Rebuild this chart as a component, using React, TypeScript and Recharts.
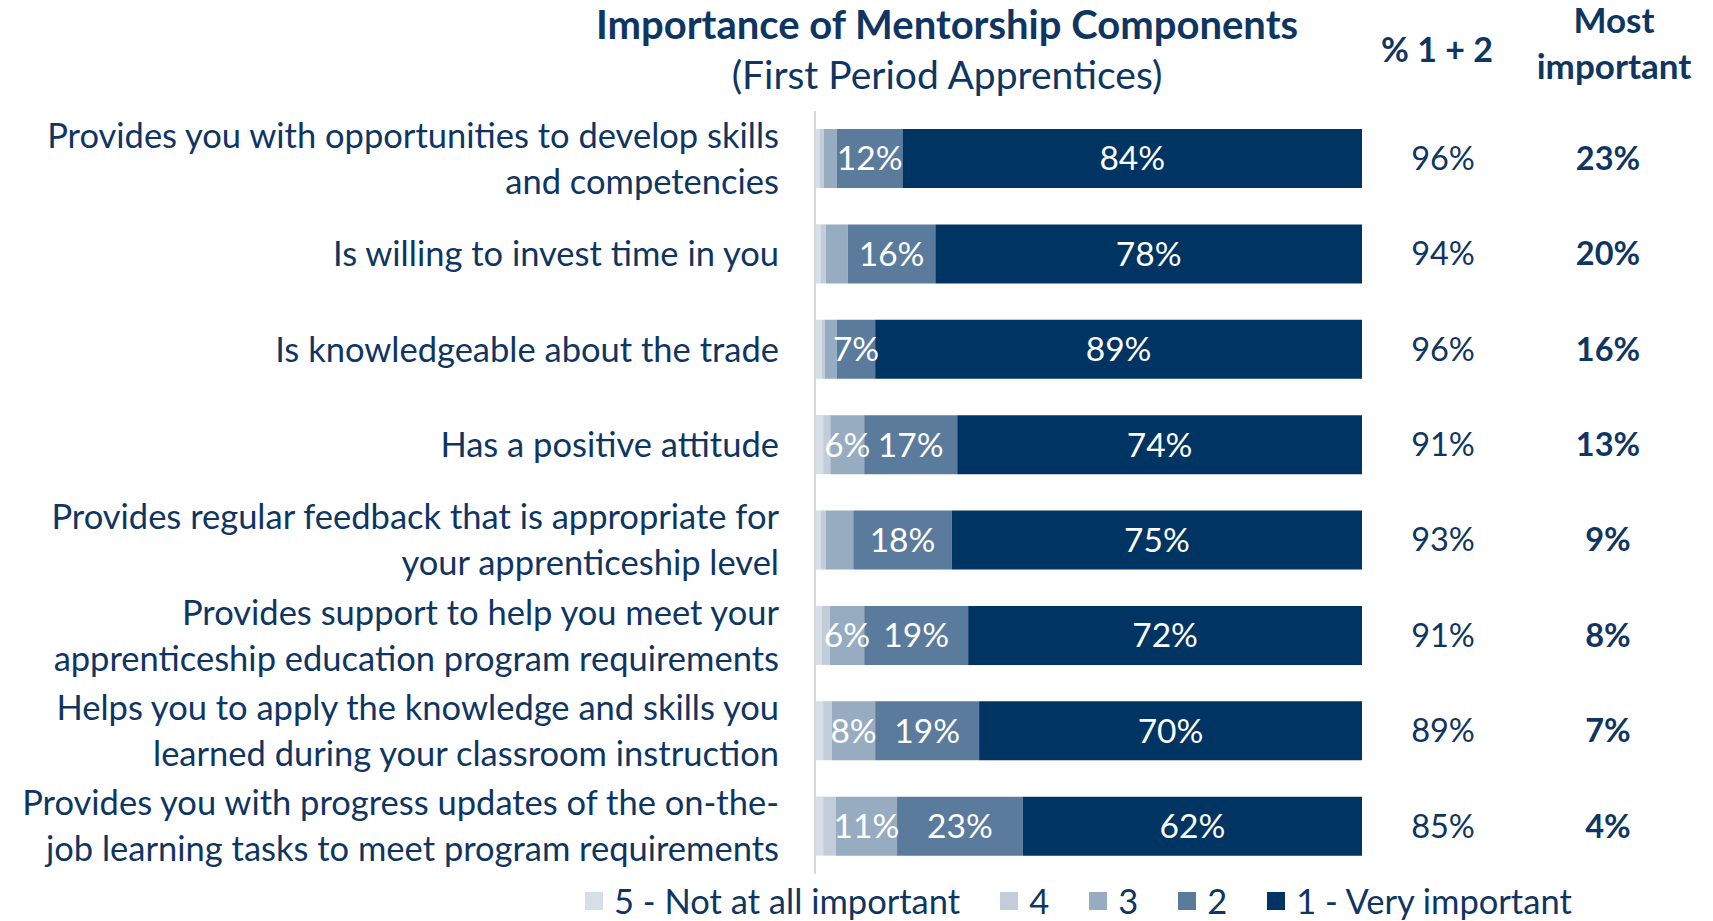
import React from 'react';
import { BarChart, Bar, XAxis, YAxis, LabelList, Legend } from 'recharts';

const categories = [
    'Provides you with opportunities to develop skills\nand competencies',
    'Is willing to invest time in you',
    'Is knowledgeable about the trade',
    'Has a positive attitude',
    'Provides regular feedback that is appropriate for\nyour apprenticeship level',
    'Provides support to help you meet your\napprenticeship education program requirements',
    'Helps you to apply the knowledge and skills you\nlearned during your classroom instruction',
    'Provides you with progress updates of the on-the-\njob learning tasks to meet program requirements',
];

const notAtAll = [0.8, 1, 1.2, 1.5, 1, 1.2, 1.5, 1.5];
const four = [0.8, 1, 0.6, 1.3, 1, 1.5, 1.6, 2.3];
const three = [2.4, 4, 2.2, 6.2, 5, 6.3, 7.9, 11.2];
const two = [12, 16, 7, 17, 18, 19, 19, 23];
const veryImportant = [84, 78, 89, 74, 75, 72, 70, 62];

const topTwo = ['96%', '94%', '96%', '91%', '93%', '91%', '89%', '85%'];
const mostImportant = ['23%', '20%', '16%', '13%', '9%', '8%', '7%', '4%'];

const seriesNames = ['5 - Not at all important', '4', '3', '2', '1 - Very important'];
const seriesKeys = ['s5', 's4', 's3', 's2', 's1'];
const colors = ['#d6dee7', '#c3cdd9', '#97abc1', '#5b7b9c', '#003462'];

const data = categories.map((name, i) => ({
    name,
    s5: notAtAll[i],
    s4: four[i],
    s3: three[i],
    s2: two[i],
    s1: veryImportant[i],
    topTwo: topTwo[i],
    most: mostImportant[i],
}));

const FONT = 'Lato, "Open Sans", sans-serif';
const TEXT = '#0f3562';
const FS = 34.5;

const CategoryTick = (props: any) => {
    const { x, y, payload } = props;
    const lines = String(payload.value).split('\n');
    const lh = 46;
    const start = -((lines.length - 1) * lh) / 2;
    return (
        <text x={x} y={y} textAnchor="end" fill={TEXT} fontSize={FS} fontFamily={FONT}>
            {lines.map((l, i) => (
                <tspan key={i} x={x} y={y + start + i * lh} dy="0.35em">{l}</tspan>
            ))}
        </text>
    );
};

const fmt = (v: any) => (Number(v) >= 6 ? `${Math.round(Number(v))}%` : '');

const RightColumns = (props: any) => {
    const { x, y, width, height, index } = props;
    const end = x + width;
    const cy = y + height / 2;
    return (
        <g>
            <text x={end + 81} y={cy} dy="0.35em" textAnchor="middle" fill={TEXT} fontSize={32.5} fontFamily={FONT}>
                {topTwo[index]}
            </text>
            <text x={end + 246} y={cy} dy="0.35em" textAnchor="middle" fill={TEXT} fontSize={32.5} fontWeight="bold" fontFamily={FONT}>
                {mostImportant[index]}
            </text>
        </g>
    );
};

const LegendContent = () => (
    <div style={{ display: 'flex', alignItems: 'center', height: 40, paddingTop: 14, paddingLeft: 577, boxSizing: 'border-box', fontFamily: FONT, fontSize: FS, color: TEXT, whiteSpace: 'nowrap' }}>
        {seriesNames.map((n, i) => (
            <div key={n} style={{ display: 'flex', alignItems: 'center', marginRight: 40 }}>
                <span style={{ width: 18, height: 18, background: colors[i], marginRight: 11, display: 'inline-block' }} />
                <span style={{ lineHeight: '26px' }}>{n}</span>
            </div>
        ))}
    </div>
);

export default function App() {
    return (
        <div style={{ position: 'relative', width: 1705, height: 913, fontFamily: FONT, color: TEXT }}>
            <div style={{ position: 'absolute', left: 439, width: 1000, top: -8, textAlign: 'center', fontSize: 40, fontWeight: 'bold', lineHeight: '48px', whiteSpace: 'nowrap' }}>
                Importance of Mentorship Components
            </div>
            <div style={{ position: 'absolute', left: 439, width: 1000, top: 42, textAlign: 'center', fontSize: 39, lineHeight: '48px', whiteSpace: 'nowrap' }}>
                (First Period Apprentices)
            </div>
            <div style={{ position: 'absolute', left: 1329, width: 200, top: 21, textAlign: 'center', fontSize: 34, fontWeight: 'bold', lineHeight: '40px' }}>
                % 1 + 2
            </div>
            <div style={{ position: 'absolute', left: 1506, width: 200, top: -11, textAlign: 'center', fontSize: 35, fontWeight: 'bold', lineHeight: '45.5px' }}>
                Most<br />important
            </div>
            <BarChart
                width={1705}
                height={913}
                data={data}
                layout="vertical"
                margin={{ top: 103, right: 351, bottom: 7, left: 0 }}
                barSize={59}
            >
                <XAxis type="number" domain={[0, 100]} hide />
                <YAxis
                    type="category"
                    dataKey="name"
                    width={807}
                    axisLine={{ stroke: '#d9d9d9', strokeWidth: 2 }}
                    tickLine={false}
                    tickMargin={30}
                    tick={<CategoryTick />}
                    interval={0}
                />
                {seriesKeys.map((k, i) => (
                    <Bar key={k} dataKey={k} name={seriesNames[i]} stackId="a" fill={colors[i]} isAnimationActive={false}>
                        <LabelList dataKey={k} position="center" formatter={fmt} fill="#ffffff" fontSize={33.5} fontFamily={FONT} />
                        {k === 's1' ? <LabelList dataKey="topTwo" content={<RightColumns />} /> : null}
                    </Bar>
                ))}
                <Legend verticalAlign="bottom" wrapperStyle={{ left: 0, width: 1705 }} content={<LegendContent />} />
            </BarChart>
        </div>
    );
}
